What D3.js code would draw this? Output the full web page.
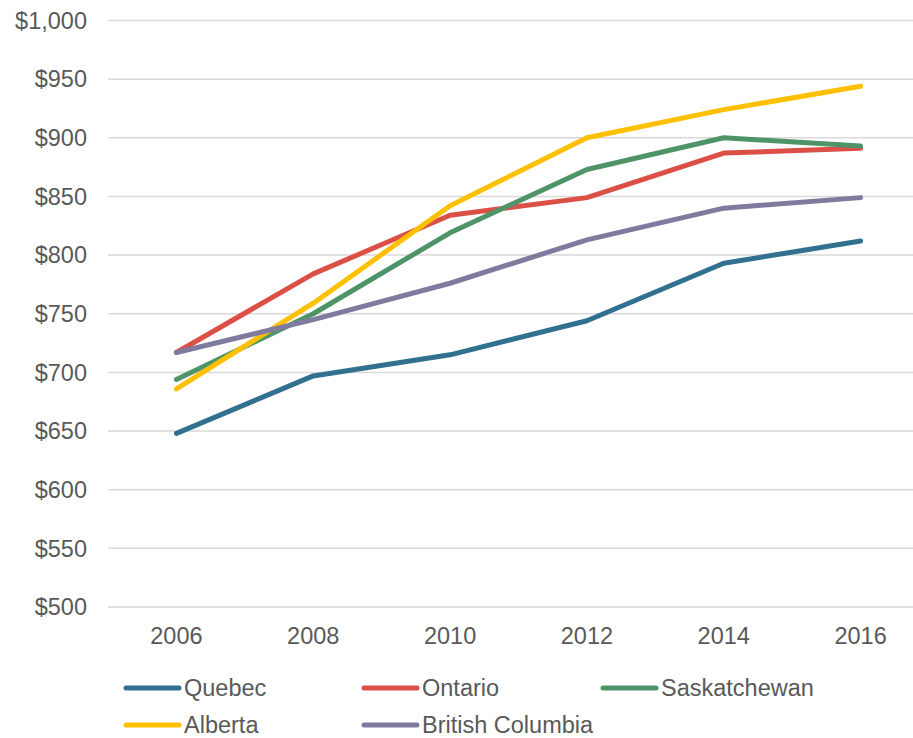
<!DOCTYPE html>
<html>
<head>
<meta charset="utf-8">
<script src="https://cdn.jsdelivr.net/npm/d3@7/dist/d3.min.js"></script>
<style>
html,body{margin:0;padding:0;background:#fff;}
svg text{font-family:"Liberation Sans",Arial,sans-serif;fill:#595959;}
</style>
</head>
<body>
<svg id="chart" width="913" height="738"></svg>
<script>
const years = ["2006","2008","2010","2012","2014","2016"];
const yTicks = [500,550,600,650,700,750,800,850,900,950,1000];
const seriesNames = ["Quebec","Ontario","Saskatchewan","Alberta","British Columbia"];
const seriesColors = ["#31708F","#DC4F47","#4F9468","#FFC000","#807A9E"];
const quebec = [648,697,715,744,793,812];
const ontario = [717,784,834,849,887,891];
const saskatchewan = [694,750,819,873,900,893];
const alberta = [686,759,842,900,924,944];
const britishColumbia = [717,745,776,813,840,849];
const seriesValues = [quebec,ontario,saskatchewan,alberta,britishColumbia];

(function(){
const svg = d3.select("#chart");
const mLeft = 108, mRight = 929, mTop = 20.5, mBottom = 607;
const fs = "23.5px";

const x = d3.scaleBand().domain(years).range([mLeft, mRight]);
const y = d3.scaleLinear().domain([500,1000]).range([mBottom, mTop]);

svg.append("g").selectAll("line").data(yTicks).join("line")
  .attr("x1", mLeft).attr("x2", 913)
  .attr("y1", d => y(d)).attr("y2", d => y(d))
  .attr("stroke", "#d9d9d9").attr("stroke-width", 1.5);

svg.append("g").selectAll("text").data(yTicks).join("text")
  .attr("x", 87).attr("y", d => y(d))
  .attr("dy", "0.35em").attr("text-anchor", "end")
  .attr("font-size", fs)
  .text(d => d3.format("$,")(d));

svg.append("g").selectAll("text").data(years).join("text")
  .attr("x", d => x(d) + x.bandwidth()/2).attr("y", 644)
  .attr("text-anchor", "middle").attr("font-size", fs)
  .text(d => d);

const line = d3.line().x((d,i) => x(years[i]) + x.bandwidth()/2).y(d => y(d));

svg.append("g").selectAll("path").data(seriesValues).join("path")
  .attr("d", d => line(d))
  .attr("fill", "none")
  .attr("stroke", (d,i) => seriesColors[i])
  .attr("stroke-width", 5)
  .attr("stroke-linecap", "round")
  .attr("stroke-linejoin", "round");

const legendPos = [[126,688],[364,688],[603,688],[126,725],[364,725]];
const lg = svg.append("g").selectAll("g").data(seriesNames).join("g")
  .attr("transform", (d,i) => `translate(${legendPos[i][0]},${legendPos[i][1]})`);
lg.append("line").attr("x1",0).attr("x2",53).attr("y1",0).attr("y2",0)
  .attr("stroke",(d,i)=>seriesColors[i]).attr("stroke-width",5).attr("stroke-linecap","round");
lg.append("text").attr("x",58).attr("y",0).attr("dy","0.35em")
  .attr("font-size",fs).text(d=>d);
})();
</script>
</body>
</html>
